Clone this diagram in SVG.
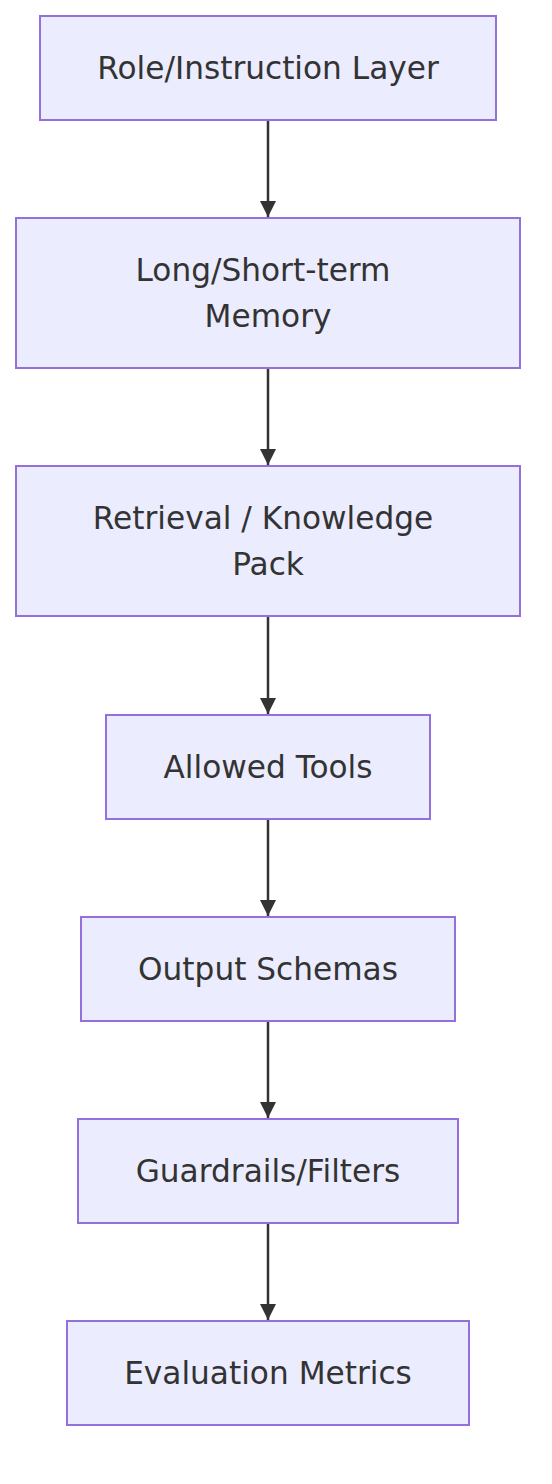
<svg xmlns="http://www.w3.org/2000/svg" width="552" height="1484" viewBox="0 0 552 1484">
<defs>
<style>
.node rect{fill:#ECECFF;stroke:#9370DB;stroke-width:2}
.node text{font-family:"DejaVu Sans",sans-serif;font-size:31.2px;fill:#333333;text-anchor:middle;dominant-baseline:central}
.edge{stroke:#333333;stroke-width:2.5;fill:none}
</style>
<marker id="arrow" viewBox="0 0 10 10" refX="10" refY="5" markerUnits="userSpaceOnUse" markerWidth="16" markerHeight="16" orient="auto">
<path d="M0,0 L10,5 L0,10 z" fill="#333333"/>
</marker>
</defs>
<rect width="552" height="1484" fill="#ffffff"/>
<g id="connectors">
<line class="edge" x1="268" y1="121" x2="268" y2="217" marker-end="url(#arrow)"/>
<line class="edge" x1="268" y1="369" x2="268" y2="465" marker-end="url(#arrow)"/>
<line class="edge" x1="268" y1="617" x2="268" y2="714" marker-end="url(#arrow)"/>
<line class="edge" x1="268" y1="820" x2="268" y2="916" marker-end="url(#arrow)"/>
<line class="edge" x1="268" y1="1022" x2="268" y2="1118" marker-end="url(#arrow)"/>
<line class="edge" x1="268" y1="1224" x2="268" y2="1320" marker-end="url(#arrow)"/>
</g>
<g id="n1" class="node"><rect x="40" y="16" width="456" height="104"/><text x="268" y="68">Role/Instruction Layer</text></g>
<g id="n2" class="node"><rect x="16" y="218" width="504" height="150"/><text x="263" y="270">Long/Short-term</text><text x="268" y="316">Memory</text></g>
<g id="n3" class="node"><rect x="16" y="466" width="504" height="150"/><text x="263" y="518">Retrieval / Knowledge</text><text x="268" y="564">Pack</text></g>
<g id="n4" class="node"><rect x="106" y="715" width="324" height="104"/><text x="268" y="767">Allowed Tools</text></g>
<g id="n5" class="node"><rect x="81" y="917" width="374" height="104"/><text x="268" y="969">Output Schemas</text></g>
<g id="n6" class="node"><rect x="78" y="1119" width="380" height="104"/><text x="268" y="1171">Guardrails/Filters</text></g>
<g id="n7" class="node"><rect x="67" y="1321" width="402" height="104"/><text x="268" y="1373">Evaluation Metrics</text></g>
</svg>
